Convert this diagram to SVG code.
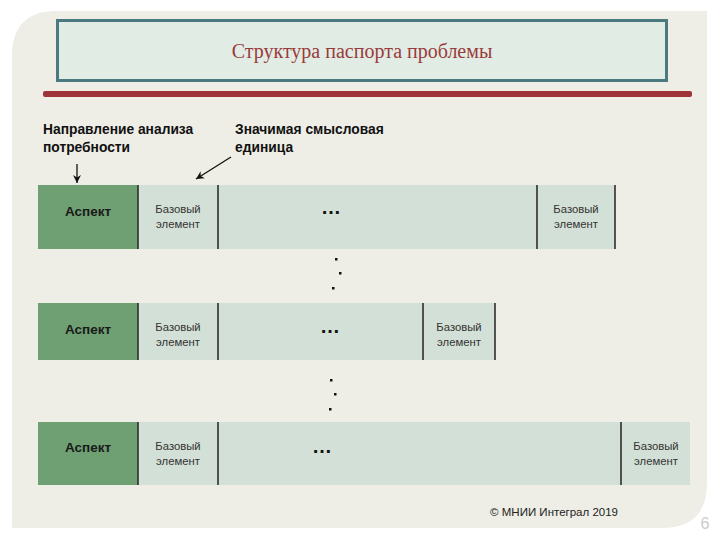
<svg xmlns="http://www.w3.org/2000/svg" width="720" height="540" viewBox="0 0 720 540">
<defs>
<style>
.lbl{font-family:"Liberation Sans",Arial,sans-serif;font-weight:bold;font-size:13.8px;fill:#111}
.asp{font-family:"Liberation Sans",Arial,sans-serif;font-weight:bold;font-size:13.5px;fill:#1a1a1a;text-anchor:middle}
.be{font-family:"Liberation Sans",Arial,sans-serif;font-size:11.3px;fill:#333;text-anchor:middle}
.dots{font-family:"Liberation Sans",Arial,sans-serif;font-weight:bold;font-size:20px;fill:#111;text-anchor:middle}
.green{fill:#6fa073}
.cell{fill:#d3e0d7}
.div{stroke:#2e2e2e;stroke-width:1.6}
.dot{fill:#111}
</style>
<marker id="ah" markerWidth="10" markerHeight="10" refX="8" refY="5" orient="auto" markerUnits="userSpaceOnUse">
<path d="M0,1 L8,5 L0,9 L2.5,5 Z" fill="#111"/>
</marker>
</defs>
<rect width="720" height="540" fill="#ffffff"/>
<path d="M57,11 H707 V483 Q707,528 662,528 H12 V56 Q12,11 57,11 Z" fill="#eeeee6"/>
<g id="title">
<rect x="57.5" y="20.5" width="609" height="60" fill="#e0ece4" stroke="#4a7a80" stroke-width="3"/>
<text x="362" y="58" text-anchor="middle" font-family="Liberation Serif,Times New Roman,serif" font-size="20" fill="#9b3a3a">Структура паспорта проблемы</text>
</g>
<rect x="43" y="91" width="649" height="6" rx="2" fill="#9e3438"/>
<g id="label-direction">
<text class="lbl" x="43" y="134">Направление анализа</text>
<text class="lbl" x="43" y="152">потребности</text>
</g>
<g id="label-unit">
<text class="lbl" x="235" y="134">Значимая смысловая</text>
<text class="lbl" x="235" y="152">единица</text>
</g>
<g id="row1">
<rect class="green" x="38" y="185" width="100" height="64"/>
<rect class="cell" x="138" y="185" width="477" height="64"/>
<line class="div" x1="138" y1="185" x2="138" y2="249"/>
<line class="div" x1="218" y1="185" x2="218" y2="249"/>
<line class="div" x1="537" y1="185" x2="537" y2="249"/>
<line class="div" x1="615" y1="185" x2="615" y2="249"/>
<text class="asp" x="88" y="216">Аспект</text>
<text class="be" x="178" y="213">Базовый</text>
<text class="be" x="178" y="228">элемент</text>
<text class="dots" x="331" y="214">…</text>
<text class="be" x="576" y="213">Базовый</text>
<text class="be" x="576" y="228">элемент</text>
</g>
<g id="row2">
<rect class="green" x="38" y="303" width="100" height="57"/>
<rect class="cell" x="138" y="303" width="357" height="57"/>
<line class="div" x1="138" y1="303" x2="138" y2="360"/>
<line class="div" x1="218" y1="303" x2="218" y2="360"/>
<line class="div" x1="423" y1="303" x2="423" y2="360"/>
<line class="div" x1="495" y1="303" x2="495" y2="360"/>
<text class="asp" x="88" y="334">Аспект</text>
<text class="be" x="178" y="331">Базовый</text>
<text class="be" x="178" y="346">элемент</text>
<text class="dots" x="330" y="333">…</text>
<text class="be" x="459" y="331">Базовый</text>
<text class="be" x="459" y="346">элемент</text>
</g>
<g id="row3">
<rect class="green" x="38" y="422" width="100" height="63"/>
<rect class="cell" x="138" y="422" width="552" height="63"/>
<line class="div" x1="138" y1="422" x2="138" y2="485"/>
<line class="div" x1="218" y1="422" x2="218" y2="485"/>
<line class="div" x1="621" y1="422" x2="621" y2="485"/>
<text class="asp" x="88" y="452">Аспект</text>
<text class="be" x="178" y="450">Базовый</text>
<text class="be" x="178" y="465">элемент</text>
<text class="dots" x="322" y="453">…</text>
<text class="be" x="656" y="450">Базовый</text>
<text class="be" x="656" y="465">элемент</text>
</g>
<g id="connectors">
<line x1="77" y1="164" x2="77" y2="183" stroke="#111" stroke-width="1.3" marker-end="url(#ah)"/>
<line x1="231" y1="157" x2="196" y2="179" stroke="#111" stroke-width="1.3" marker-end="url(#ah)"/>
</g>
<g id="ellipsis-dots">
<rect class="dot" x="335" y="258" width="2.5" height="2.5"/>
<rect class="dot" x="339" y="272" width="2.5" height="2.5"/>
<rect class="dot" x="332" y="287" width="2.5" height="2.5"/>
<rect class="dot" x="330" y="379" width="2.5" height="2.5"/>
<rect class="dot" x="334" y="393" width="2.5" height="2.5"/>
<rect class="dot" x="329" y="408" width="2.5" height="2.5"/>
</g>
<text x="618" y="516" text-anchor="end" font-family="Liberation Sans,Arial,sans-serif" font-size="11.5" fill="#222">© МНИИ Интеграл 2019</text>
<text x="705" y="529" text-anchor="middle" font-family="Liberation Sans,Arial,sans-serif" font-size="16" fill="#cccccc">6</text>
</svg>
